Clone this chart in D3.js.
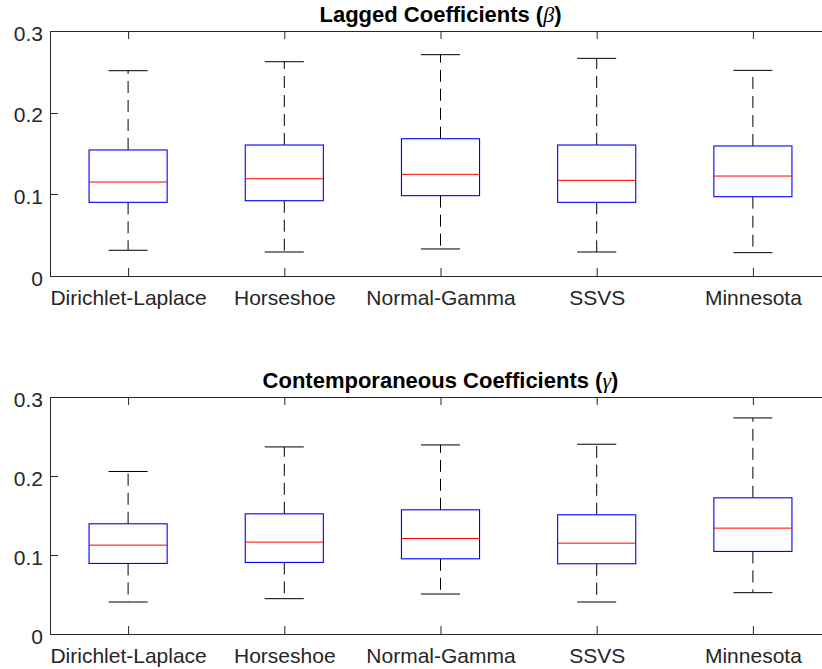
<!DOCTYPE html>
<html>
<head>
<meta charset="utf-8">
<script src="https://cdn.jsdelivr.net/npm/d3@7"></script>
<style>
  html, body { margin: 0; padding: 0; background: #fff; overflow: hidden; }
  svg { display: block; }
</style>
</head>
<body>
<script>
const categories = ["Dirichlet-Laplace", "Horseshoe", "Normal-Gamma", "SSVS", "Minnesota"];
const yTicks = [0, 0.1, 0.2, 0.3];

// Lagged coefficients (beta)
const laggedLower  = [0.0315, 0.0294, 0.0331, 0.0294, 0.0286];
const laggedQ1     = [0.0902, 0.0922, 0.0984, 0.0902, 0.0971];
const laggedMedian = [0.1151, 0.1191, 0.1245, 0.1171, 0.1224];
const laggedQ3     = [0.1543, 0.1604, 0.1681, 0.1604, 0.1592];
const laggedUpper  = [0.2514, 0.2624, 0.2710, 0.2665, 0.2518];

// Contemporaneous coefficients (gamma)
const contempLower  = [0.0405, 0.0447, 0.0506, 0.0405, 0.0523];
const contempQ1     = [0.0893, 0.0906, 0.0952, 0.0889, 0.1045];
const contempMedian = [0.1125, 0.1163, 0.1209, 0.1150, 0.1340];
const contempQ3     = [0.1395, 0.1521, 0.1572, 0.1509, 0.1724];
const contempUpper  = [0.2057, 0.2368, 0.2393, 0.2402, 0.2735];

const W = 822, H = 669;
const svg = d3.select("body").append("svg").attr("width", W).attr("height", H);

const FONT = "'Liberation Sans', Arial, Helvetica, sans-serif";
const AX = "#262626";

function panel(cfg) {
  const x = d3.scaleLinear().domain([0.5, 5.5]).range([cfg.left, cfg.right]);
  const y = d3.scaleLinear().domain([0, 0.3]).range([cfg.bottom, cfg.top]);
  const g = svg.append("g");

  const rows = categories.map((c, i) => ({
    c, i: i + 1,
    lo: cfg.lower[i], q1: cfg.q1[i], med: cfg.median[i], q3: cfg.q3[i], hi: cfg.upper[i]
  }));

  // axes box
  g.append("rect")
    .attr("x", cfg.left + 0.5).attr("y", cfg.top + 0.5)
    .attr("width", cfg.right - cfg.left).attr("height", cfg.bottom - cfg.top)
    .attr("fill", "none").attr("stroke", AX).attr("stroke-width", 1);

  // bottom axis
  const xAxis = d3.axisBottom(x).tickValues(d3.range(1, 6)).tickSize(0).tickPadding(14)
    .tickFormat(d => categories[d - 1]);
  const gx = g.append("g").attr("transform", `translate(0,${cfg.bottom})`).call(xAxis);
  gx.select(".domain").remove();
  gx.selectAll("text").attr("font-family", FONT).attr("font-size", 21).attr("fill", AX)
    .attr("dy", "0.71em");

  // left axis
  const yAxis = d3.axisLeft(y).tickValues(yTicks).tickSize(0).tickPadding(7)
    .tickFormat(d3.format("~g"));
  const gy = g.append("g").attr("transform", `translate(${cfg.left},0)`).call(yAxis);
  gy.select(".domain").remove();
  gy.selectAll("text").attr("font-family", FONT).attr("font-size", 21).attr("fill", AX)
    .attr("dy", "0.43em");

  // inward ticks
  const tl = 8;
  g.selectAll(".xtb").data(rows).join("line")
    .attr("x1", d => x(d.i) + 0.5).attr("x2", d => x(d.i) + 0.5)
    .attr("y1", cfg.bottom).attr("y2", cfg.bottom - tl)
    .attr("stroke", AX).attr("stroke-width", 1);
  g.selectAll(".xtt").data(rows).join("line")
    .attr("x1", d => x(d.i) + 0.5).attr("x2", d => x(d.i) + 0.5)
    .attr("y1", cfg.top).attr("y2", cfg.top + tl)
    .attr("stroke", AX).attr("stroke-width", 1);
  g.selectAll(".ytl").data(yTicks).join("line")
    .attr("x1", cfg.left).attr("x2", cfg.left + tl)
    .attr("y1", d => Math.round(y(d)) + 0.5).attr("y2", d => Math.round(y(d)) + 0.5)
    .attr("stroke", AX).attr("stroke-width", 1);

  const bw = x(1.25) - x(1);   // half box width (0.25 units)
  const cw = x(1.125) - x(1);  // half cap width

  // whiskers (dashed, starting at the box edge)
  g.selectAll(".wu").data(rows).join("line")
    .attr("x1", d => x(d.i)).attr("x2", d => x(d.i))
    .attr("y1", d => y(d.q3)).attr("y2", d => y(d.hi))
    .attr("stroke", "#000").attr("stroke-width", 1).attr("stroke-dasharray", "12,7");
  g.selectAll(".wl").data(rows).join("line")
    .attr("x1", d => x(d.i)).attr("x2", d => x(d.i))
    .attr("y1", d => y(d.q1)).attr("y2", d => y(d.lo))
    .attr("stroke", "#000").attr("stroke-width", 1).attr("stroke-dasharray", "12,7");

  // caps
  g.selectAll(".cu").data(rows).join("line")
    .attr("x1", d => x(d.i) - cw).attr("x2", d => x(d.i) + cw)
    .attr("y1", d => y(d.hi)).attr("y2", d => y(d.hi))
    .attr("stroke", "#000").attr("stroke-width", 1);
  g.selectAll(".cl").data(rows).join("line")
    .attr("x1", d => x(d.i) - cw).attr("x2", d => x(d.i) + cw)
    .attr("y1", d => y(d.lo)).attr("y2", d => y(d.lo))
    .attr("stroke", "#000").attr("stroke-width", 1);

  // boxes
  g.selectAll(".bx").data(rows).join("rect")
    .attr("x", d => x(d.i) - bw).attr("width", 2 * bw)
    .attr("y", d => y(d.q3)).attr("height", d => y(d.q1) - y(d.q3))
    .attr("fill", "#fff").attr("stroke", "#0000ff").attr("stroke-width", 1.1);

  // medians
  g.selectAll(".md").data(rows).join("line")
    .attr("x1", d => x(d.i) - bw).attr("x2", d => x(d.i) + bw)
    .attr("y1", d => y(d.med)).attr("y2", d => y(d.med))
    .attr("stroke", "#ff0000").attr("stroke-width", 1);

  // title
  const t = svg.append("text")
    .attr("x", (cfg.left + cfg.right) / 2).attr("y", cfg.titleY)
    .attr("text-anchor", "middle")
    .attr("font-family", FONT).attr("font-size", 22).attr("font-weight", "bold").attr("fill", "#000");
  t.append("tspan").text(cfg.title + " (");
  t.append("tspan").text(cfg.greek)
    .attr("font-family", "'Liberation Serif', 'DejaVu Serif', serif")
    .attr("font-style", "italic").attr("font-weight", "normal");
  t.append("tspan").text(")");
}

panel({
  left: 50, right: 831, top: 31, bottom: 276, titleY: 22,
  title: "Lagged Coefficients", greek: "β",
  lower: laggedLower, q1: laggedQ1, median: laggedMedian, q3: laggedQ3, upper: laggedUpper
});

panel({
  left: 50, right: 831, top: 397, bottom: 634, titleY: 388,
  title: "Contemporaneous Coefficients", greek: "γ",
  lower: contempLower, q1: contempQ1, median: contempMedian, q3: contempQ3, upper: contempUpper
});
</script>
</body>
</html>
